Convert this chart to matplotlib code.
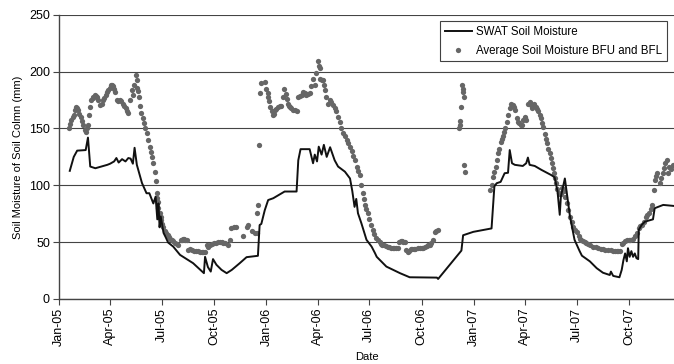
import matplotlib
matplotlib.use("Agg")
import matplotlib.pyplot as plt
import matplotlib.dates as mdates
import pandas as pd

plt.rcParams['font.family'] = ['Liberation Sans', 'DejaVu Sans']

# SWAT simulated soil moisture (mm)
swat_dates = ['2005-01-20', '2005-01-27', '2005-02-02', '2005-02-17', '2005-02-21', '2005-02-25',
              '2005-03-06', '2005-03-27', '2005-04-01', '2005-04-08', '2005-04-12', '2005-04-16',
              '2005-04-22', '2005-04-28', '2005-05-03', '2005-05-07', '2005-05-11', '2005-05-14',
              '2005-05-18', '2005-05-27', '2005-06-04', '2005-06-09', '2005-06-16', '2005-06-20',
              '2005-06-23', '2005-06-25', '2005-06-27', '2005-06-29', '2005-07-04', '2005-07-08',
              '2005-07-12', '2005-07-21', '2005-08-02', '2005-08-25', '2005-09-13', '2005-09-15',
              '2005-09-20', '2005-09-25', '2005-09-29', '2005-10-05', '2005-10-14', '2005-10-23',
              '2005-11-01', '2005-11-15', '2005-11-27', '2005-12-17', '2005-12-20', '2005-12-23',
              '2005-12-29', '2006-01-04', '2006-01-13', '2006-02-02', '2006-02-23', '2006-02-26',
              '2006-03-02', '2006-03-18', '2006-03-24', '2006-03-27', '2006-03-31', '2006-04-03',
              '2006-04-08', '2006-04-12', '2006-04-17', '2006-04-23', '2006-05-01', '2006-05-07',
              '2006-05-19', '2006-05-28', '2006-06-01', '2006-06-05', '2006-06-08', '2006-06-11',
              '2006-06-17', '2006-06-26', '2006-07-05', '2006-07-11', '2006-07-14', '2006-07-31',
              '2006-08-24', '2006-09-10', '2006-10-28', '2006-10-30', '2006-12-10', '2006-12-13',
              '2006-12-31', '2007-02-01', '2007-02-06', '2007-02-10', '2007-02-17', '2007-02-24',
              '2007-03-02', '2007-03-05', '2007-03-09', '2007-03-14', '2007-03-28', '2007-04-03',
              '2007-04-06', '2007-04-09', '2007-04-18', '2007-04-30', '2007-05-17', '2007-05-23',
              '2007-05-28', '2007-06-01', '2007-06-03', '2007-06-07', '2007-06-10', '2007-06-13',
              '2007-06-19', '2007-06-27', '2007-07-06', '2007-07-10', '2007-07-24', '2007-08-05',
              '2007-08-16', '2007-08-28', '2007-08-30', '2007-09-03', '2007-09-14', '2007-09-18',
              '2007-09-21', '2007-09-24', '2007-09-27', '2007-09-29', '2007-10-02', '2007-10-05',
              '2007-10-08', '2007-10-11', '2007-10-14', '2007-10-17', '2007-10-18', '2007-10-23',
              '2007-10-29', '2007-11-12', '2007-11-15', '2007-11-30', '2007-12-19']
swat_vals = [112.7, 125, 130.5, 131, 142, 116.5,
             115, 118, 119, 121, 124, 120,
             123, 121, 124, 123.5, 119, 133,
             118, 102, 93, 93, 84, 90,
             70, 84, 63, 72.5, 58, 54,
             49.6, 46, 38.7, 31.4, 22.6, 37,
             28, 24, 35, 30, 25.5, 22.6,
             25.5, 31.4, 36.7, 37.9, 65, 66,
             78, 87, 88.6, 94.5, 94.5, 122,
             131.8, 131.8, 119.4, 127, 121, 134,
             127, 135.6, 125, 133.5, 122, 116.5,
             112, 106, 95, 81, 88, 75.4,
             66.6, 52, 46, 40.2, 37, 28.4,
             22.6, 19, 18.7, 17.5, 42.5, 56,
             59, 62, 99, 101.8, 103, 110.6,
             111, 131, 119.4, 118, 117, 119.4,
             124.4, 118, 117, 113.5, 109, 107,
             95, 74, 90, 99, 106, 95,
             72.5, 52, 42, 38, 33, 27,
             23, 21, 24, 20.2, 19, 25.5,
             34, 40, 33, 44.6, 37, 42,
             37, 40, 35.8, 35, 60.7, 65,
             68, 70, 79.8, 82.7, 81.8]

# Average soil moisture of BFU and BFL (mm); point order does not matter
avg_dates = ['2005-01-18', '2005-01-23', '2005-01-27', '2005-01-31', '2005-02-04', '2005-02-08',
             '2005-02-13', '2005-02-17', '2005-02-21', '2005-02-23', '2005-02-24', '2005-02-27',
             '2005-03-02', '2005-03-05', '2005-03-09', '2005-03-14', '2005-03-20', '2005-03-24',
             '2005-03-28', '2005-04-02', '2005-04-06', '2005-04-10', '2005-04-13', '2005-04-18',
             '2005-04-23', '2005-04-29', '2005-05-03', '2005-05-06', '2005-05-09', '2005-05-11',
             '2005-05-13', '2005-05-16', '2005-05-18', '2005-05-22', '2005-05-26', '2005-05-30',
             '2005-06-04', '2005-06-10', '2005-06-14', '2005-06-19', '2005-06-21', '2005-06-22',
             '2005-06-24', '2005-06-27', '2005-06-30', '2005-07-03', '2005-07-09', '2005-07-13',
             '2005-07-18', '2005-07-24', '2005-07-30', '2005-08-05', '2005-08-09', '2005-08-14',
             '2005-08-16', '2005-08-23', '2005-08-30', '2005-09-09', '2005-09-15', '2005-09-18',
             '2005-09-20', '2005-09-27', '2005-10-05', '2005-10-11', '2005-10-20', '2005-10-25',
             '2005-10-29', '2005-10-31', '2005-11-05', '2005-11-09', '2005-11-21', '2005-11-27',
             '2005-11-30', '2005-12-06', '2005-12-12', '2005-12-15', '2005-12-16', '2005-12-18',
             '2005-12-19', '2005-12-20', '2005-12-22', '2005-12-29', '2006-01-01', '2006-01-04',
             '2006-01-08', '2006-01-12', '2006-01-16', '2006-01-21', '2006-01-27', '2006-01-30',
             '2006-02-01', '2006-02-04', '2006-02-08', '2006-02-12', '2006-02-17', '2006-02-23',
             '2006-02-26', '2006-03-04', '2006-03-06', '2006-03-12', '2006-03-18', '2006-03-21',
             '2006-03-24', '2006-03-27', '2006-03-30', '2006-04-02', '2006-04-03', '2006-04-05',
             '2006-04-06', '2006-04-10', '2006-04-14', '2006-04-19', '2006-04-22', '2006-04-28',
             '2006-05-04', '2006-05-10', '2006-05-19', '2006-05-28', '2006-06-05', '2006-06-14',
             '2006-06-19', '2006-06-24', '2006-06-28', '2006-07-01', '2006-07-07', '2006-07-13',
             '2006-07-19', '2006-07-24', '2006-07-30', '2006-08-05', '2006-08-11', '2006-08-17',
             '2006-08-23', '2006-08-28', '2006-09-01', '2006-09-04', '2006-09-07', '2006-09-12',
             '2006-09-17', '2006-09-24', '2006-10-04', '2006-10-10', '2006-10-15', '2006-10-21',
             '2006-10-24', '2006-10-30', '2006-12-06', '2006-12-07', '2006-12-08', '2006-12-10',
             '2006-12-11', '2006-12-12', '2006-12-13', '2006-12-14', '2006-12-15', '2006-12-16',
             '2007-01-29', '2007-02-01', '2007-02-04', '2007-02-08', '2007-02-10', '2007-02-12',
             '2007-02-14', '2007-02-17', '2007-02-21', '2007-02-25', '2007-02-28', '2007-03-02',
             '2007-03-05', '2007-03-07', '2007-03-10', '2007-03-14', '2007-03-17', '2007-03-21',
             '2007-03-26', '2007-03-28', '2007-03-31', '2007-04-03', '2007-04-06', '2007-04-09',
             '2007-04-13', '2007-04-17', '2007-04-20', '2007-04-24', '2007-04-29', '2007-05-03',
             '2007-05-06', '2007-05-10', '2007-05-14', '2007-05-18', '2007-05-22', '2007-05-26',
             '2007-05-30', '2007-06-03', '2007-06-05', '2007-06-09', '2007-06-13', '2007-06-19',
             '2007-06-25', '2007-07-01', '2007-07-04', '2007-07-09', '2007-07-15', '2007-07-20',
             '2007-07-30', '2007-08-07', '2007-08-16', '2007-08-25', '2007-09-03', '2007-09-10',
             '2007-09-15', '2007-09-21', '2007-09-27', '2007-10-03', '2007-10-12', '2007-10-18',
             '2007-10-24', '2007-10-30', '2007-11-05', '2007-11-10', '2007-11-14', '2007-11-15',
             '2007-11-19', '2007-11-24', '2007-11-30', '2007-12-03', '2007-12-06', '2007-12-08',
             '2007-12-11', '2007-12-14', '2007-12-17',
             # further readings between the ones above
             '2005-01-20', '2005-01-25', '2005-01-29', '2005-02-02', '2005-02-06', '2005-02-10',
             '2005-02-15', '2005-02-19', '2005-03-01', '2005-03-07', '2005-03-11', '2005-03-17',
             '2005-03-22', '2005-03-26', '2005-03-31', '2005-04-04', '2005-04-08', '2005-04-15',
             '2005-04-20', '2005-04-26', '2005-05-01', '2005-05-19', '2005-05-20', '2005-05-24',
             '2005-05-28', '2005-06-01', '2005-06-07', '2005-06-12', '2005-06-16', '2005-06-23',
             '2005-06-25', '2005-06-29', '2005-07-01', '2005-07-06', '2005-07-11', '2005-07-15',
             '2005-07-21', '2005-07-27', '2005-08-03', '2005-08-07', '2005-08-11', '2005-08-19',
             '2005-08-26', '2005-09-03', '2005-09-06', '2005-09-12', '2005-09-24', '2005-10-01',
             '2005-10-08', '2005-10-15', '2005-10-17',
             '2006-01-03', '2006-01-06', '2006-01-10', '2006-01-14', '2006-01-18', '2006-01-24',
             '2006-02-06', '2006-02-10', '2006-02-14', '2006-02-20', '2006-03-01', '2006-03-09',
             '2006-03-15', '2006-04-08', '2006-04-12', '2006-04-16', '2006-04-25', '2006-05-01',
             '2006-05-07', '2006-05-13', '2006-05-16', '2006-05-22', '2006-05-25', '2006-05-31',
             '2006-06-02', '2006-06-09', '2006-06-11', '2006-06-16', '2006-06-21', '2006-06-26',
             '2006-07-04', '2006-07-10', '2006-07-16', '2006-07-21', '2006-07-27', '2006-08-02',
             '2006-08-08', '2006-08-14', '2006-08-20', '2006-08-25', '2006-08-30', '2006-09-09',
             '2006-09-14', '2006-09-20', '2006-09-28', '2006-10-01', '2006-10-07', '2006-10-12',
             '2006-10-18', '2006-10-27',
             '2007-02-06', '2007-02-19', '2007-02-23', '2007-03-12', '2007-03-19', '2007-03-24',
             '2007-04-01', '2007-04-11', '2007-04-15', '2007-04-22', '2007-04-27', '2007-05-01',
             '2007-05-08', '2007-05-12', '2007-05-16', '2007-05-20', '2007-05-24', '2007-05-28',
             '2007-06-01', '2007-06-07', '2007-06-11', '2007-06-16', '2007-06-22', '2007-06-28',
             '2007-07-07', '2007-07-12', '2007-07-18', '2007-07-25', '2007-08-03', '2007-08-12',
             '2007-08-20', '2007-08-30', '2007-09-07', '2007-09-12', '2007-09-18', '2007-09-24',
             '2007-09-30', '2007-10-07', '2007-10-15', '2007-10-21', '2007-10-27', '2007-11-02',
             '2007-11-08', '2007-11-17', '2007-11-27', '2007-12-01']
avg_vals = [150.8, 157.6, 162, 169, 166, 160.5,
            153, 147, 153, 162, 169, 175,
            178, 179.6, 178, 170.8, 175, 179.6,
            184, 188.4, 187, 182.5, 175, 175,
            172, 168, 163.4, 175, 184, 179.6,
            188.4, 197, 192.5, 178, 163.4, 154.6,
            145.8, 134, 125, 112, 104, 93,
            85, 75.4, 69, 63.6, 57.8, 54.5,
            52, 49.5, 47.5, 52, 52.5, 52,
            43, 43, 42.5, 41.6, 41.6, 47.5,
            46, 48, 49.6, 50, 49.6, 47.5,
            52, 62, 63.6, 63.4, 55, 63.4,
            64.6, 60, 57.8, 57.8, 75.4, 82.7,
            135.6, 181, 190, 191, 185, 178,
            169, 162, 166, 169, 170, 178,
            185, 180, 172, 169, 166.4, 165,
            178, 179.6, 182.5, 179.6, 181, 187,
            194, 188, 198.6, 209, 205, 203,
            194, 192.5, 184, 172, 175, 171,
            165, 156, 143, 134, 122, 109,
            93, 83, 75.4, 70, 60.7, 53.4,
            50, 47.5, 46.5, 45.5, 45, 45,
            50.4, 50.5, 50, 43, 41, 44,
            44, 44.5, 45, 46.5, 47.5, 52,
            59, 60.7, 150, 153, 157, 169,
            188, 185, 182, 177.5, 118, 112,
            96, 100, 107.7, 116.5, 122, 128,
            132, 138.5, 143, 150, 156, 162,
            168, 172, 171, 166.4, 159, 154.6,
            153, 157.5, 160.5, 157.5, 172, 173,
            168, 172, 169, 165, 159, 151.7,
            145, 137, 128, 119.4, 110.6, 101.8,
            93, 92, 98, 95, 84, 72.5,
            63.6, 59, 55, 52, 50.4, 48.5,
            46, 45, 43.7, 43, 42.5, 42,
            42, 49.6, 52, 52, 55, 62,
            65, 72.5, 75.4, 82.7, 96, 104.7,
            110.6, 102, 110.6, 119.4, 122, 110.6,
            116.5, 114, 118,
            # further readings between the ones above
            154, 160, 166, 168, 163, 157,
            149, 150, 177, 179, 175, 172,
            177, 182, 186, 188, 185, 174,
            174, 170, 165, 186, 183, 170,
            159, 150, 140, 129, 120, 89,
            80, 72, 66, 60, 56, 53,
            50.5, 48, 51.5, 52.5, 52, 43.5,
            42.5, 42, 41, 41.5, 47, 49,
            50, 50, 49,
            181, 174, 165, 163, 167, 170,
            176, 170, 168, 166, 179, 181,
            180, 193, 188, 178, 173, 168,
            160, 150, 146, 140, 137, 130,
            126, 116, 113, 100, 88, 79,
            65, 57, 51.5, 48.5, 47, 46,
            45, 45, 45, 50.5, 50, 42,
            44, 44, 44.5, 45, 46, 47,
            49, 60,
            112, 141, 147, 169, 156, 153,
            159, 171, 170, 167, 162, 155,
            141, 132, 124, 115, 106, 97,
            92, 97, 90, 78, 68, 61,
            53, 51, 49, 47, 45.5, 44.3,
            43.3, 42.8, 42.2, 42, 48, 51,
            52, 53, 58, 64, 68, 74,
            79, 108, 106, 115]

y_ticks = [0, 50, 100, 150, 200, 250]

swat_x = pd.to_datetime(swat_dates)
avg_x = pd.to_datetime(avg_dates)

fig = plt.figure(figsize=(6.74, 3.64), dpi=100)
ax = fig.add_axes([0.0875, 0.179, 0.9125, 0.78])

ax.plot(avg_x, avg_vals, linestyle='none', marker='o', markersize=3.8,
        color='#666666', markeredgewidth=0, label='Average Soil Moisture BFU and BFL', zorder=3)
ax.plot(swat_x, swat_vals, color='#111111', linewidth=1.4,
        label='SWAT Soil Moisture', zorder=4)

ax.set_ylim(0, 250)
ax.set_yticks(y_ticks)
ax.set_xlim(pd.Timestamp('2005-01-01'), pd.Timestamp('2007-12-19'))
ax.xaxis.set_major_locator(mdates.MonthLocator(bymonth=[1, 4, 7, 10]))
ax.xaxis.set_major_formatter(mdates.DateFormatter('%b-%y'))
plt.setp(ax.get_xticklabels(), rotation=90)

ax.grid(axis='y', color='#444444', linewidth=0.8)
ax.set_axisbelow(True)
for s in ['top', 'right']:
    ax.spines[s].set_visible(False)
for s in ['left', 'bottom']:
    ax.spines[s].set_color('#444444')
    ax.spines[s].set_linewidth(1.0)
ax.tick_params(labelsize=9, length=4, color='#444444', direction='out', pad=2.5)

ax.set_ylabel('Soil Moisture of Soil Colmn (mm)', fontsize=8)
ax.set_xlabel('Date', fontsize=8, labelpad=4)

handles, labels = ax.get_legend_handles_labels()
leg = ax.legend(handles[::-1], labels[::-1], loc='upper left', bbox_to_anchor=(0.61, 0.998),
                fontsize=8.3, frameon=True, fancybox=False, handlelength=2.4,
                borderpad=0.4, labelspacing=0.6, handletextpad=0.35)
leg.get_frame().set_edgecolor('#111111')
leg.get_frame().set_linewidth(0.8)

fig.savefig('out.png', dpi=100)
